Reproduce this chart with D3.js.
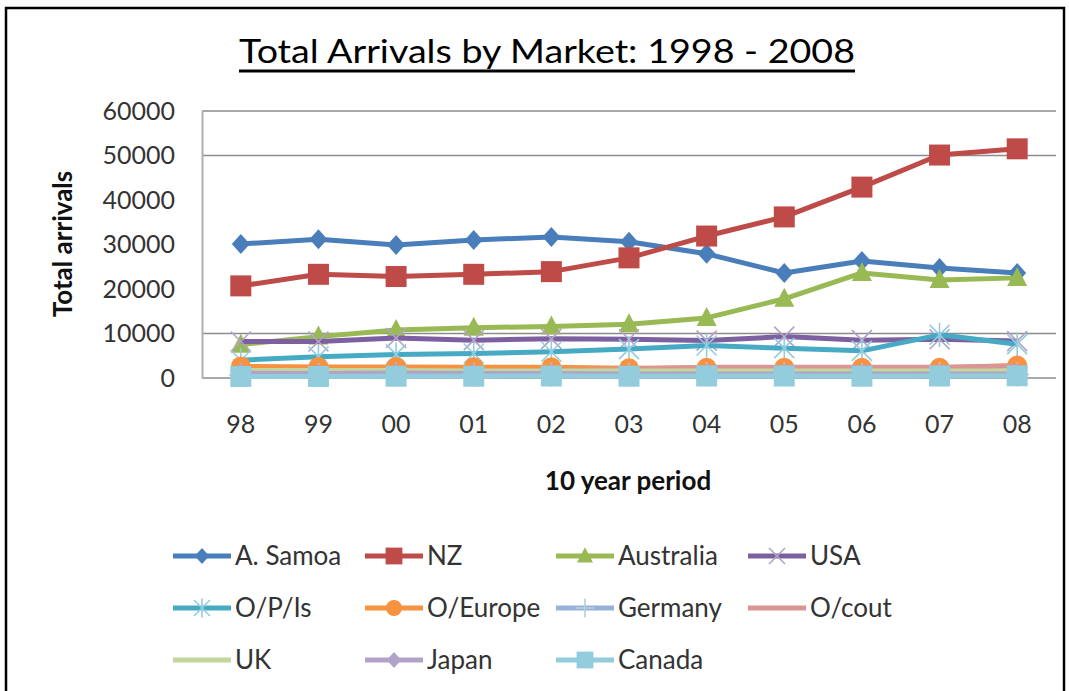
<!DOCTYPE html>
<html>
<head>
<meta charset="utf-8">
<script src="https://cdn.jsdelivr.net/npm/d3@7"></script>
<style>
  body { margin: 0; background: #fff; }
  svg { display: block; }
  text { font-family: Lato, "Liberation Sans", sans-serif; }
</style>
</head>
<body>
<svg id="chart" width="1069" height="691"></svg>
<script>
// ---- data ----
let years = ["98", "99", "00", "01", "02", "03", "04", "05", "06", "07", "08"];
let yTicks = [0, 10000, 20000, 30000, 40000, 50000, 60000];
let gridValues = [0, 10000, 50000, 60000];

let samoa = [30100, 31200, 29900, 31000, 31700, 30600, 27900, 23600, 26300, 24700, 23600];
let nz = [20700, 23300, 22800, 23300, 23900, 27000, 31900, 36200, 42900, 50100, 51500];
let australia = [7500, 9300, 10800, 11300, 11600, 12100, 13500, 17800, 23600, 22000, 22500];
let usa = [8200, 8200, 9000, 8500, 8800, 8700, 8400, 9300, 8500, 8700, 8300];
let opis = [4000, 4800, 5300, 5500, 5900, 6500, 7300, 6700, 6100, 9700, 7600];
let oeurope = [2600, 2500, 2500, 2400, 2400, 2200, 2300, 2300, 2300, 2300, 2800];
let germany = [700, 700, 800, 700, 700, 700, 800, 800, 700, 800, 800];
let ocout = [1500, 1500, 1600, 1600, 1700, 2000, 2400, 2400, 2400, 2400, 2700];
let uk = [1700, 1700, 1700, 1600, 1600, 1600, 1600, 1600, 1600, 1600, 1600];
let japan = [1100, 1000, 1100, 1000, 1000, 900, 900, 900, 900, 900, 900];
let canada = [350, 350, 400, 400, 450, 400, 450, 450, 400, 450, 500];

let seriesNames = ["A. Samoa", "NZ", "Australia", "USA", "O/P/Is", "O/Europe", "Germany", "O/cout", "UK", "Japan", "Canada"];
let seriesValues = [samoa, nz, australia, usa, opis, oeurope, germany, ocout, uk, japan, canada];
let seriesColors = ["#4A7EBB", "#BE4B48", "#98B954", "#7D60A0", "#46AAC5", "#F69240", "#95B3D7", "#D99694", "#C3D69B", "#B3A2C7", "#93CDDD"];
let markerTypes = ["diamond", "square", "triangle", "x", "star", "circle", "plus", "none", "none", "diamond", "square"];
let markerLight = { x: "#B3A2C7", star: "#93CDDD", plus: "#B9CDE5" };

// ---- layout ----
let svg = d3.select("#chart");
let plotLeft = 202, plotRight = 1056, plotTop = 111, plotBottom = 378;

let x = d3.scaleBand().domain(years).range([plotLeft, plotRight]).padding(0);
let y = d3.scaleLinear().domain([0, 60000]).range([plotBottom, plotTop]);

// outer frame
svg.append("rect")
	.attr("x", 6).attr("y", 8)
	.attr("width", 1058).attr("height", 700)
	.attr("fill", "none").attr("stroke", "#000").attr("stroke-width", 2.5);

// title
svg.append("text")
	.attr("x", 547).attr("y", 63)
	.attr("text-anchor", "middle")
	.attr("font-size", 32)
	.attr("fill", "#000")
	.attr("textLength", 616)
	.attr("lengthAdjust", "spacingAndGlyphs")
	.text("Total Arrivals by Market: 1998 - 2008");
svg.append("line")
	.attr("x1", 239).attr("x2", 855)
	.attr("y1", 71).attr("y2", 71)
	.attr("stroke", "#000").attr("stroke-width", 3);

// gridlines
svg.append("g").selectAll("line")
	.data(gridValues)
	.join("line")
	.attr("x1", plotLeft).attr("x2", plotRight)
	.attr("y1", d => y(d)).attr("y2", d => y(d))
	.attr("stroke", "#8c8c8c").attr("stroke-width", 1.5);

// y axis
let yAxis = svg.append("g")
	.attr("transform", `translate(${plotLeft},0)`)
	.call(d3.axisLeft(y).tickValues(yTicks).tickSize(0).tickPadding(27).tickFormat(d3.format("d")));
yAxis.select(".domain").attr("stroke", "#b0b0b0").attr("stroke-width", 2);
yAxis.selectAll("text").attr("font-size", 25).attr("fill", "#333").attr("font-family", "Lato, 'Liberation Sans', sans-serif");

// x axis labels
let xAxis = svg.append("g")
	.attr("transform", `translate(0,${plotBottom})`)
	.call(d3.axisBottom(x).tickSize(0).tickPadding(37));
xAxis.select(".domain").remove();
xAxis.selectAll("text").attr("font-size", 25).attr("fill", "#333").attr("font-family", "Lato, 'Liberation Sans', sans-serif");

// axis titles
svg.append("text")
	.attr("transform", "translate(72,244) rotate(-90)")
	.attr("text-anchor", "middle")
	.attr("font-size", 26).attr("font-weight", "bold").attr("fill", "#111")
	.text("Total arrivals");
svg.append("text")
	.attr("x", 628).attr("y", 490)
	.attr("text-anchor", "middle")
	.attr("font-size", 26).attr("font-weight", "bold").attr("fill", "#111")
	.text("10 year period");

// marker drawing
function drawMarker(g, type, color, s) {
	if (type == "diamond") {
		g.append("path").attr("d", `M0,${-10*s}L${9*s},0L0,${10*s}L${-9*s},0Z`).attr("fill", color);
	} else if (type == "square") {
		g.append("rect").attr("x", -10.5*s).attr("y", -10.5*s).attr("width", 21*s).attr("height", 21*s).attr("fill", color);
	} else if (type == "triangle") {
		g.append("path").attr("d", `M0,${-11*s}L${10*s},${8*s}L${-10*s},${8*s}Z`).attr("fill", color);
	} else if (type == "circle") {
		g.append("circle").attr("r", 10*s).attr("fill", color);
	} else if (type == "x" || type == "star" || type == "plus") {
		let c = markerLight[type];
		let r = 10*s;
		let segs = [];
		if (type != "plus") segs.push([-r, -r, r, r], [-r, r, r, -r]);
		if (type == "star" || type == "plus") segs.push([0, -r*1.2, 0, r*1.2]);
		if (type == "plus") segs.push([-r*1.2, 0, r*1.2, 0]);
		segs.forEach(p => {
			g.append("line").attr("x1", p[0]).attr("y1", p[1]).attr("x2", p[2]).attr("y2", p[3])
				.attr("stroke", c).attr("stroke-width", 1.6);
		});
	}
}

// series
let line = d3.line().x((d, i) => x(years[i]) + x.bandwidth() / 2).y(d => y(d));
let plot = svg.append("g");
seriesValues.forEach((vals, k) => {
	let sg = plot.append("g");
	sg.append("path")
		.attr("d", line(vals))
		.attr("fill", "none")
		.attr("stroke", seriesColors[k])
		.attr("stroke-width", 5)
		.attr("stroke-linejoin", "round");
	vals.forEach((v, i) => {
		let mg = sg.append("g").attr("transform", `translate(${x(years[i]) + x.bandwidth() / 2},${y(v)})`);
		drawMarker(mg, markerTypes[k], seriesColors[k], 1);
	});
});

// legend
let legendX = [173, 365, 556, 748];
let legendY = [556, 608, 660];
let legend = svg.append("g");
seriesNames.forEach((name, k) => {
	let lx = legendX[k % 4], ly = legendY[Math.floor(k / 4)];
	let lg = legend.append("g").attr("transform", `translate(${lx},${ly})`);
	lg.append("line").attr("x1", 0).attr("x2", 58).attr("y1", 0).attr("y2", 0)
		.attr("stroke", seriesColors[k]).attr("stroke-width", 5);
	let mg = lg.append("g").attr("transform", "translate(29,0)");
	drawMarker(mg, markerTypes[k], seriesColors[k], 0.8);
	lg.append("text").attr("x", 62).attr("y", 9)
		.attr("font-size", 26).attr("fill", "#333")
		.text(name);
});
</script>
</body>
</html>
